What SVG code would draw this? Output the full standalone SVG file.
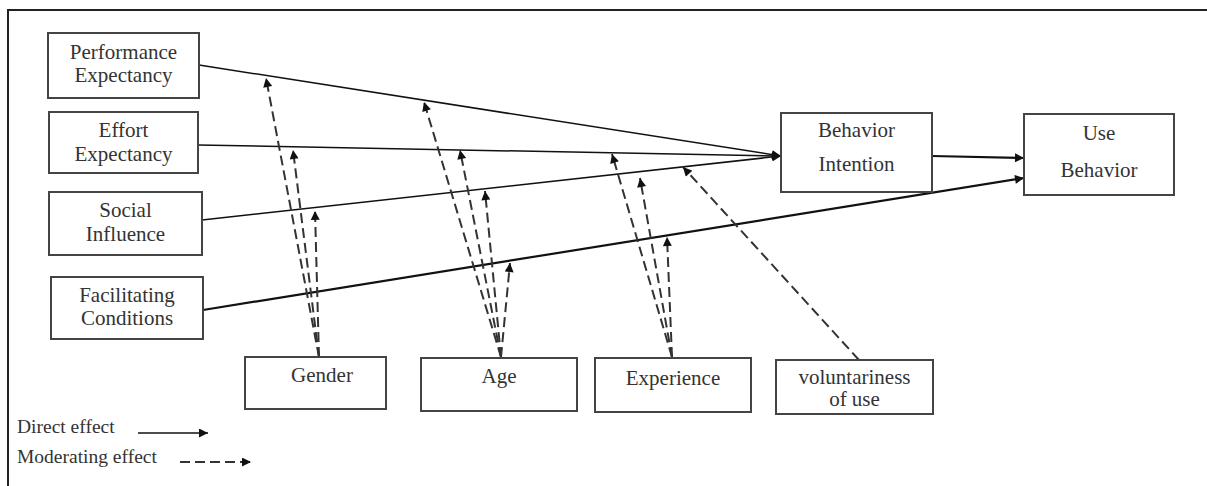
<svg xmlns="http://www.w3.org/2000/svg" width="1207" height="486" viewBox="0 0 1207 486">
  <style>
    .box { fill: #fff; stroke: #444; stroke-width: 2; }
    .lbl { font-family: "Liberation Serif", Tinos, "DejaVu Serif", serif; font-size: 21px; fill: #333; text-anchor: middle; }
    .leg { font-family: "Liberation Serif", Tinos, "DejaVu Serif", serif; font-size: 19.5px; fill: #333; }
    .direct { fill: none; stroke: #111; stroke-width: 1.5; }
    .thick { stroke-width: 2.2; }
    .mod { fill: none; stroke: #333; stroke-width: 2; stroke-dasharray: 10 5; }
  </style>
  <defs>
    <marker id="arrow" viewBox="0 0 10 10" refX="10" refY="5" markerWidth="11" markerHeight="9" markerUnits="userSpaceOnUse" orient="auto">
      <path d="M0,0 L10,5 L0,10 z" fill="#111"/>
    </marker>
    <marker id="arrowSmall" viewBox="0 0 10 10" refX="10" refY="5" markerWidth="10" markerHeight="9" markerUnits="userSpaceOnUse" orient="auto">
      <path d="M0,0 L10,5 L0,10 z" fill="#111"/>
    </marker>
  </defs>

  <rect width="1207" height="486" fill="#fff"/>
  <!-- frame (top and left edges) -->
  <path d="M8,486 V10 H1207" fill="none" stroke="#222" stroke-width="2"/>

  <g id="connectors">
    <!-- direct effects -->
    <path class="direct" d="M199,65 L781,156" marker-end="url(#arrow)"/>
    <path class="direct" d="M198,145 L781,156" marker-end="url(#arrow)"/>
    <path class="direct" d="M202,220 L781,156" marker-end="url(#arrow)"/>
    <path class="direct thick" d="M203,310 L1024,178" marker-end="url(#arrow)"/>
    <path class="direct thick" d="M932,156 L1024,158" marker-end="url(#arrow)"/>

    <!-- moderating effects: gender -->
    <path class="mod" d="M319,357 L266,78" marker-end="url(#arrowSmall)"/>
    <path class="mod" d="M319,357 L293,150" marker-end="url(#arrowSmall)"/>
    <path class="mod" d="M319,357 L315,211" marker-end="url(#arrowSmall)"/>
    <!-- age -->
    <path class="mod" d="M501,357 L424,102" marker-end="url(#arrowSmall)"/>
    <path class="mod" d="M501,357 L460,150" marker-end="url(#arrowSmall)"/>
    <path class="mod" d="M501,357 L485,191" marker-end="url(#arrowSmall)"/>
    <path class="mod" d="M501,357 L510,263" marker-end="url(#arrowSmall)"/>
    <!-- experience -->
    <path class="mod" d="M672,357 L612,154" marker-end="url(#arrowSmall)"/>
    <path class="mod" d="M672,357 L640,178" marker-end="url(#arrowSmall)"/>
    <path class="mod" d="M672,357 L667,237" marker-end="url(#arrowSmall)"/>
    <!-- voluntariness of use -->
    <path class="mod" d="M859,360 L683,167" marker-end="url(#arrowSmall)"/>
  </g>

  <g id="performance-expectancy">
    <rect class="box" x="48" y="33" width="151" height="65"/>
    <text class="lbl" x="123.5" y="59">Performance</text>
    <text class="lbl" x="123.5" y="82">Expectancy</text>
  </g>
  <g id="effort-expectancy">
    <rect class="box" x="49" y="112" width="149" height="61"/>
    <text class="lbl" x="123.5" y="137">Effort</text>
    <text class="lbl" x="123.5" y="161">Expectancy</text>
  </g>
  <g id="social-influence">
    <rect class="box" x="49" y="192" width="153" height="63"/>
    <text class="lbl" x="125.5" y="217">Social</text>
    <text class="lbl" x="125.5" y="241">Influence</text>
  </g>
  <g id="facilitating-conditions">
    <rect class="box" x="51" y="277" width="152" height="62"/>
    <text class="lbl" x="127" y="302">Facilitating</text>
    <text class="lbl" x="127" y="325">Conditions</text>
  </g>
  <g id="behavior-intention">
    <rect class="box" x="781" y="113" width="151" height="79"/>
    <text class="lbl" x="856.5" y="137">Behavior</text>
    <text class="lbl" x="856.5" y="171">Intention</text>
  </g>
  <g id="use-behavior">
    <rect class="box" x="1024" y="114" width="150" height="81"/>
    <text class="lbl" x="1099" y="140">Use</text>
    <text class="lbl" x="1099" y="177">Behavior</text>
  </g>
  <g id="gender">
    <rect class="box" x="245" y="357" width="141" height="52"/>
    <text class="lbl" x="322" y="382">Gender</text>
  </g>
  <g id="age">
    <rect class="box" x="421" y="358" width="156" height="53"/>
    <text class="lbl" x="499" y="383">Age</text>
  </g>
  <g id="experience">
    <rect class="box" x="595" y="358" width="156" height="54"/>
    <text class="lbl" x="673" y="385">Experience</text>
  </g>
  <g id="voluntariness-of-use">
    <rect class="box" x="776" y="360" width="157" height="54"/>
    <text class="lbl" x="854.5" y="384">voluntariness</text>
    <text class="lbl" x="854.5" y="406">of use</text>
  </g>

  <g id="legend">
    <text class="leg" x="17" y="433">Direct effect</text>
    <path class="direct" d="M138,433 L208,433" marker-end="url(#arrow)"/>
    <text class="leg" x="17" y="463">Moderating effect</text>
    <path class="mod" d="M180,462 L251,462" marker-end="url(#arrowSmall)"/>
  </g>
</svg>
